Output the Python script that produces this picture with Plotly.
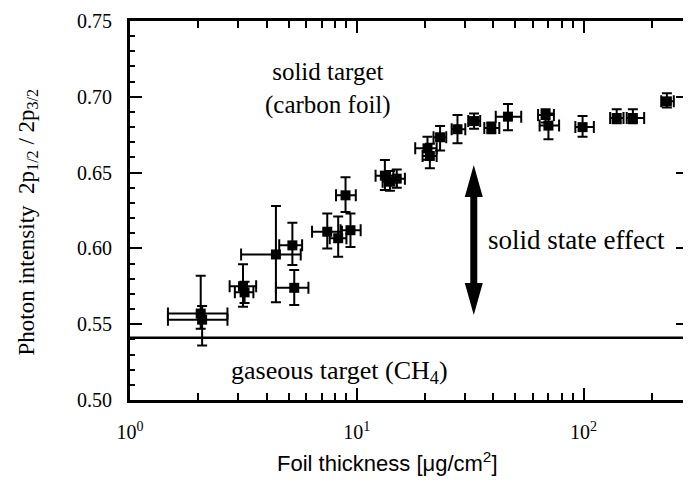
import plotly.graph_objects as go

# ---- data ----
thickness = [2.05, 2.08, 3.15, 3.2, 4.4, 5.2, 5.3, 7.41, 8.28, 8.92, 9.38,
             13.3, 14.0, 15.0, 20.5, 21.0, 23.3, 27.8, 32.9, 39.2, 46.4,
             68, 70, 99, 140, 165, 233]
ratio = [0.557, 0.553, 0.575, 0.571, 0.596, 0.602, 0.574, 0.611, 0.6067, 0.635, 0.612,
         0.648, 0.644, 0.646, 0.666, 0.661, 0.6733, 0.6786, 0.684, 0.6795, 0.6869,
         0.688, 0.681, 0.680, 0.686, 0.686, 0.697]
x_low = [1.47, 1.47, 2.75, 2.9, 3.09, 4.55, 4.40, 6.35, 7.6, 8.1, 8.48,
         12.1, 13.0, 13.9, 18.1, 19.5, 21.8, 26.2, 31.0, 36.5, 41.0,
         63, 64, 92, 131, 155, 220]
x_high = [2.69, 2.69, 3.60, 3.5, 5.66, 5.74, 6.12, 8.6, 9.0, 9.9, 10.4,
          14.5, 15.0, 16.3, 22.5, 22.5, 24.8, 30.1, 35.0, 42.5, 53.1,
          74, 78, 111, 150, 185, 250]
y_low = [0.547, 0.536, 0.5615, 0.564, 0.5645, 0.589, 0.5627, 0.600, 0.5945, 0.624, 0.601,
         0.6385, 0.638, 0.640, 0.6585, 0.6528, 0.6645, 0.6693, 0.679, 0.676, 0.678,
         0.683, 0.672, 0.6737, 0.6825, 0.6825, 0.693]
y_high = [0.582, 0.562, 0.5895, 0.578, 0.628, 0.617, 0.5857, 0.623, 0.621, 0.647, 0.623,
          0.6583, 0.651, 0.652, 0.6737, 0.669, 0.6807, 0.688, 0.689, 0.683, 0.6953,
          0.6918, 0.689, 0.6873, 0.6918, 0.6918, 0.7023]

gas_level = 0.541
arrow_x = 32.8
arrow_y_mid = 0.6055

x_tick_vals = [1, 10, 100]
x_tick_text = ["10<sup>0</sup>", "10<sup>1</sup>", "10<sup>2</sup>"]
x_minor_vals = [2, 3, 4, 5, 6, 7, 8, 9, 20, 30, 40, 50, 60, 70, 80, 90, 200, 300]
y_tick_vals = [0.50, 0.55, 0.60, 0.65, 0.70, 0.75]

serif = "Liberation Serif"
sans = "Liberation Sans"

fig = go.Figure()
fig.add_trace(go.Scatter(
    x=thickness, y=ratio, mode="markers",
    marker=dict(symbol="square", size=10, color="black"),
    error_x=dict(type="data", symmetric=False,
                 array=[h - v for h, v in zip(x_high, thickness)],
                 arrayminus=[v - l for l, v in zip(x_low, thickness)],
                 color="black", thickness=2, width=6),
    error_y=dict(type="data", symmetric=False,
                 array=[h - v for h, v in zip(y_high, ratio)],
                 arrayminus=[v - l for l, v in zip(y_low, ratio)],
                 color="black", thickness=2, width=5),
    showlegend=False,
))

# gaseous target level
fig.add_shape(type="line", xref="paper", x0=0, x1=1, yref="y", y0=gas_level, y1=gas_level,
              line=dict(color="black", width=2.5))

# double headed arrow (pixel-sized path anchored in data coords)
fig.add_shape(type="path", xref="x", yref="y",
              xsizemode="pixel", ysizemode="pixel",
              xanchor=arrow_x, yanchor=arrow_y_mid,
              path="M 0,75 L 9,43 L 3.5,43 L 3.5,-43 L 9,-43 L 0,-75 L -9,-43 L -3.5,-43 L -3.5,43 L -9,43 Z",
              fillcolor="black", line=dict(color="black", width=0))

PW, PH = 561, 379  # plot area size in px


def px(xp):
    return (xp - 130) / PW


def py(yp):
    return (400 - yp) / PH


annots = [
    dict(x=px(329), y=py(89), text="solid target<br>(carbon foil)", size=25),
    dict(x=px(579), y=py(240), text="solid state effect", size=27),
    dict(x=px(341), y=py(372), text="gaseous target (CH<sub>4</sub>)", size=26),
]
for a in annots:
    fig.add_annotation(xref="paper", yref="paper", x=a["x"], y=a["y"], text=a["text"],
                       showarrow=False, xanchor="center", yanchor="middle",
                       font=dict(family=serif, size=a["size"], color="black"))

# axis titles as annotations
fig.add_annotation(xref="paper", yref="paper", x=px(389), y=py(462),
                   text="Foil thickness [\u03bcg/cm<sup>2</sup>]", showarrow=False,
                   xanchor="center", yanchor="middle",
                   font=dict(family=sans, size=22, color="black"))
fig.add_annotation(xref="paper", yref="paper", x=px(27), y=py(222),
                   text="Photon intensity  2p<sub>1/2</sub> / 2p<sub>3/2</sub>", showarrow=False,
                   textangle=-90, xanchor="center", yanchor="middle",
                   font=dict(family=serif, size=23, color="black"))

fig.update_xaxes(type="log", range=[0, 2.4605],
                 tickmode="array", tickvals=x_tick_vals, ticktext=x_tick_text,
                 ticks="inside", ticklen=12, tickwidth=2, tickcolor="black",
                 minor=dict(tickmode="array", tickvals=x_minor_vals, ticks="inside",
                            ticklen=7, tickwidth=2, tickcolor="black"),
                 showline=True, linewidth=3, linecolor="black", mirror="ticks",
                 showgrid=False, zeroline=False, ticklabelstandoff=12,
                 tickfont=dict(family=serif, size=20, color="black"))
fig.update_yaxes(range=[0.50, 0.75], tickmode="array", tickvals=y_tick_vals,
                 tickformat=".2f",
                 ticks="inside", ticklen=12, tickwidth=2, tickcolor="black",
                 minor=dict(dtick=0.01, ticks="inside", ticklen=5, tickwidth=2, tickcolor="black"),
                 showline=True, linewidth=3, linecolor="black", mirror="ticks",
                 showgrid=False, zeroline=False, ticklabelstandoff=11,
                 tickfont=dict(family=serif, size=20, color="black"))

# the page body adds an 8px margin, so the figure is 8px smaller and shifted
fig.update_layout(width=683, height=475,
                  margin=dict(l=122, r=0, t=13, b=83),
                  paper_bgcolor="white", plot_bgcolor="white")

fig.write_html("out.html")
